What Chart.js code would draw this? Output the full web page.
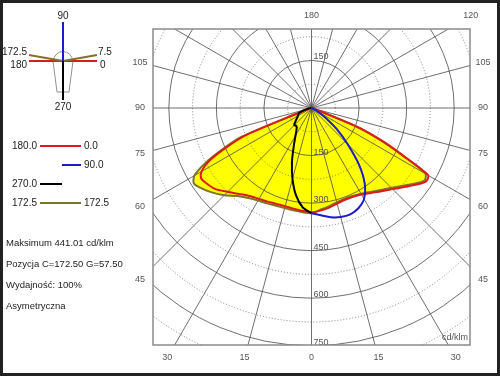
<!DOCTYPE html>
<html>
<head>
<meta charset="utf-8">
<script src="https://cdn.jsdelivr.net/npm/chart.js@4.4.0/dist/chart.umd.min.js"></script>
<style>
  html, body { margin: 0; padding: 0; background: #fff; }
  canvas { display: block; }
</style>
</head>
<body>
<canvas id="polar" width="500" height="376"></canvas>
<script>
// gamma angles (deg from nadir) and intensities in cd/klm per C-plane
const gamma  = [0, 5, 10, 15, 20, 25, 30, 35, 40, 45, 50, 55, 57.5, 60, 62.5, 65, 67.5, 70, 72.5, 75, 80, 85, 90];
const c0     = [330, 326, 320, 313, 309, 310, 316, 328, 344, 363, 388, 418, 430, 425, 325, 245, 158, 30, 10, 5, 2, 1, 0];
const c180   = [330, 327, 324, 322, 323, 327, 332, 340, 355, 375, 398, 410, 413, 400, 365, 300, 222, 28, 11, 6, 3, 1, 0];
const c90    = [333, 341, 351, 357, 358, 350, 332, 293, 232, 160, 105, 55, 35, 20, 13, 8, 5, 3, 2, 1, 0, 0, 0];
const c270   = [333, 316, 281, 232, 180, 132, 101, 82, 74, 77, 66, 56, 52, 50, 47, 45, 43, 36, 30, 20, 10, 4, 0];
const c7_5   = [333, 323, 316, 309, 305, 307, 313, 324, 339, 357, 382, 412, 424, 415, 320, 240, 155, 30, 10, 5, 2, 1, 0];
const c172_5 = [333, 331, 329, 328, 329, 333, 338, 348, 364, 390, 414, 435, 441, 426, 378, 310, 245, 30, 12, 6, 3, 1, 0];

const ringLabels = [150, 300, 450, 600, 750];
const angleTicks = [-105, -90, -75, -60, -45, -30, -15, 0, 15, 30, 45, 60, 75, 90, 105, 120, 180];

const infoLines = ['Maksimum 441.01 cd/klm', 'Pozycja C=172.50 G=57.50', 'Wydajność: 100%', 'Asymetryczna'];
const legendRows = [
  { left: '180.0', right: '0.0', color: '#dc1c1c', from: 40 },
  { left: '', right: '90.0', color: '#1c1ccc', from: 62 },
  { left: '270.0', right: '', color: '#000000', from: 40 },
  { left: '172.5', right: '172.5', color: '#7d7428', from: 40 }
];

const rad = d => d * Math.PI / 180;
// left half plane: x negative; right half plane: x positive
function half(vals, side) {
  return gamma.map((g, i) => ({ x: side * vals[i] * Math.sin(rad(g)), y: -vals[i] * Math.cos(rad(g)) }));
}
function plane(leftVals, rightVals) {
  return half(leftVals, -1).reverse().concat(rightVals ? half(rightVals, 1).slice(1) : []);
}

const font = 'Liberation Sans, Arial, sans-serif';

const polarGrid = {
  id: 'polarGrid',
  beforeDatasetsDraw(chart) {
    const { ctx, chartArea: a, scales: { x, y } } = chart;
    const cx = x.getPixelForValue(0), cy = y.getPixelForValue(0);
    const k = x.getPixelForValue(100) - cx;
    ctx.save();
    ctx.beginPath();
    ctx.rect(a.left, a.top, a.right - a.left, a.bottom - a.top);
    ctx.clip();
    ctx.lineWidth = 0.8;
    for (let r = 75; r <= 900; r += 75) {
      ctx.strokeStyle = r % 150 ? '#666' : '#4a4a4a';
      ctx.setLineDash(r % 150 ? [1, 2] : []);
      ctx.beginPath();
      ctx.arc(cx, cy, r * k / 100, 0, Math.PI * 2);
      ctx.stroke();
    }
    ctx.setLineDash([]);
    ctx.strokeStyle = '#4a4a4a';
    for (let g = 0; g < 360; g += 15) {
      ctx.beginPath();
      ctx.moveTo(cx, cy);
      ctx.lineTo(cx + 1000 * Math.sin(rad(g)), cy + 1000 * Math.cos(rad(g)));
      ctx.stroke();
    }
    ctx.fillStyle = '#555';
    ctx.font = '9px ' + font;
    ctx.textAlign = 'left';
    ctx.textBaseline = 'bottom';
    ringLabels.forEach(v => ctx.fillText(String(v), cx + 2, cy + v * k / 100 + 1));
    ctx.fillText('150', cx + 2, cy - 150 * k / 100 + 1);
    ctx.textAlign = 'right';
    ctx.fillText('cd/klm', a.right - 2, a.bottom - 3);
    ctx.restore();
  },
  afterDraw(chart) {
    const { ctx, chartArea: a, scales: { x, y } } = chart;
    const cx = x.getPixelForValue(0), cy = y.getPixelForValue(0);
    ctx.save();
    // plot frame
    ctx.strokeStyle = '#8a8a8a';
    ctx.lineWidth = 1.5;
    ctx.strokeRect(a.left, a.top, a.right - a.left, a.bottom - a.top);
    // angle labels around the frame
    const m = 13;
    const box = { l: a.left - m, r: a.right + m, t: a.top - m, b: a.bottom + m };
    ctx.fillStyle = '#555';
    ctx.font = '9px ' + font;
    ctx.textAlign = 'center';
    ctx.textBaseline = 'middle';
    angleTicks.forEach(g => {
      const dx = Math.sin(rad(g)), dy = Math.cos(rad(g));
      let t = Infinity;
      if (dx > 1e-6) t = Math.min(t, (box.r - cx) / dx);
      if (dx < -1e-6) t = Math.min(t, (box.l - cx) / dx);
      if (dy > 1e-6) t = Math.min(t, (box.b - cy) / dy);
      if (dy < -1e-6) t = Math.min(t, (box.t - cy) / dy);
      ctx.fillText(String(Math.abs(g)), cx + t * dx, cy + t * dy);
    });

    // left panel: luminaire sketch with plane directions
    const lx = 63, ly = 61;
    ctx.strokeStyle = '#777';
    ctx.lineWidth = 0.8;
    ctx.beginPath();
    ctx.arc(lx, ly, 9.5, Math.PI, 0);
    ctx.moveTo(lx - 10, ly); ctx.lineTo(lx - 6, ly + 31); ctx.lineTo(lx + 6, ly + 31); ctx.lineTo(lx + 10, ly);
    ctx.stroke();
    ctx.lineWidth = 2;
    const seg = (x1, y1, x2, y2, c) => { ctx.strokeStyle = c; ctx.beginPath(); ctx.moveTo(x1, y1); ctx.lineTo(x2, y2); ctx.stroke(); };
    seg(29, ly, 97, ly, legendRows[0].color);
    seg(29, ly - 6, lx, ly, legendRows[3].color);
    seg(lx, ly, 97, ly - 6, legendRows[3].color);
    seg(lx, ly, lx, 22, legendRows[1].color);
    seg(lx, ly, lx, 100, legendRows[2].color);
    ctx.fillStyle = '#222';
    ctx.font = '10px ' + font;
    ctx.textBaseline = 'middle';
    ctx.textAlign = 'center';
    ctx.fillText('90', lx, 16);
    ctx.fillText('270', lx, 107);
    ctx.textAlign = 'right';
    ctx.fillText('172.5', 27, 52);
    ctx.fillText('180', 27, 65);
    ctx.textAlign = 'left';
    ctx.fillText('7.5', 98, 52);
    ctx.fillText('0', 100, 65);

    // legend rows
    legendRows.forEach((row, i) => {
      const yy = 146 + i * 19;
      seg(row.from, yy, row.right ? 81 : 62, yy, row.color);
      ctx.textAlign = 'right';
      if (row.left) ctx.fillText(row.left, 37, yy);
      ctx.textAlign = 'left';
      if (row.right) ctx.fillText(row.right, 84, yy);
    });

    // info text
    ctx.textAlign = 'left';
    ctx.font = '9.5px ' + font;
    infoLines.forEach((t, i) => ctx.fillText(t, 6, 243 + i * 21));

    // outer frame
    ctx.strokeStyle = '#222';
    ctx.lineWidth = 3;
    ctx.strokeRect(1.5, 1.5, 497, 373);
    ctx.restore();
  }
};

new Chart(document.getElementById('polar'), {
  type: 'scatter',
  data: {
    datasets: [
      { label: 'C90', data: half(c90, 1), borderColor: '#1c1ccc' },
      { label: 'C270', data: half(c270, -1).reverse(), borderColor: '#000000' },
      { label: 'C180-C0', data: plane(c180, c0), borderColor: '#dc1c1c' },
      { label: 'C172.5-C7.5', data: plane(c172_5, c7_5), borderColor: '#7d7428',
        backgroundColor: '#ffff00', fill: 'shape' }
    ]
  },
  options: {
    responsive: false,
    devicePixelRatio: 1,
    animation: false,
    showLine: true,
    layout: { padding: { left: 153, right: 30, top: 29, bottom: 31 } },
    elements: {
      point: { radius: 0 },
      line: { borderWidth: 2, tension: 0.25 }
    },
    scales: {
      x: { type: 'linear', min: -500, max: 500, display: false },
      y: { type: 'linear', min: -750, max: 250, display: false }
    },
    plugins: {
      legend: { display: false },
      tooltip: { enabled: false },
      filler: { drawTime: 'beforeDatasetsDraw' }
    }
  },
  plugins: [polarGrid]
});
</script>
</body>
</html>
